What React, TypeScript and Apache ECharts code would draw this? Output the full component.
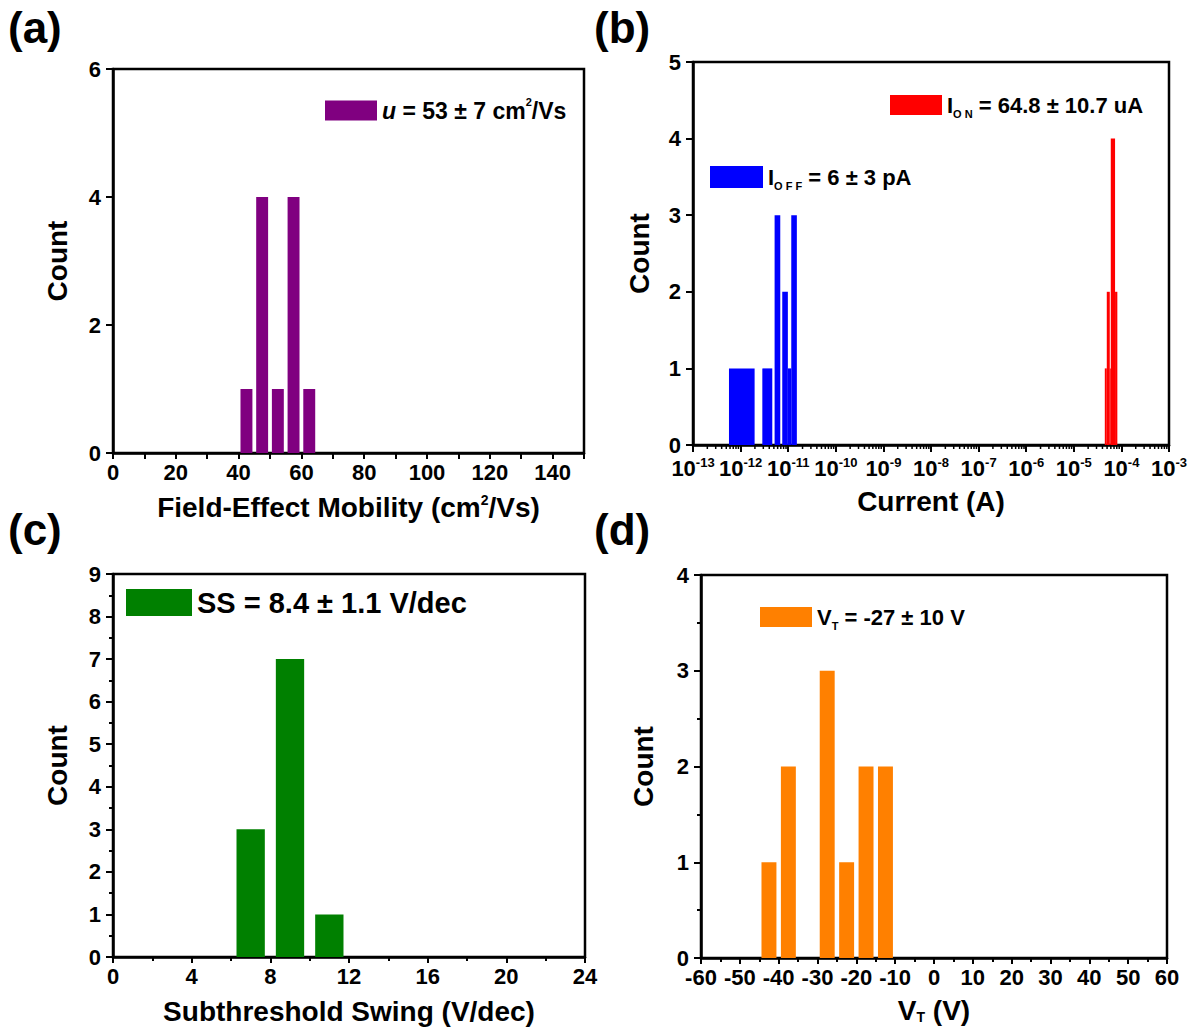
import React, { useEffect, useRef } from "react";
import * as echarts from "echarts";

const FONT = '"Liberation Sans", Arial, Helvetica, sans-serif';

// (a) Field-effect mobility histogram (cm^2/Vs)
const mobilityCenters = [42.5, 47.5, 52.5, 57.5, 62.5];
const mobilityCounts = [1, 4, 1, 4, 1];
const mobilityBinWidth = 5;

// (b) Current histograms (A): bar start / end / count
const ioffStart = [0.57e-12, 2.86e-12, 5.18e-12, 7.5e-12, 9.84e-12, 11.6e-12];
const ioffEnd = [1.97e-12, 4.63e-12, 6.81e-12, 9.84e-12, 11.6e-12, 15.2e-12];
const ioffCounts = [1, 1, 3, 2, 1, 3];
const ionStart = [44.8e-6, 49.3e-6, 57.0e-6, 59.8e-6, 73.6e-6];
const ionEnd = [49.3e-6, 57.0e-6, 59.8e-6, 73.6e-6, 82.2e-6];
const ionCounts = [1, 2, 1, 4, 2];
const currentDecades = [-13, -12, -11, -10, -9, -8, -7, -6, -5, -4, -3];
const minorMultipliers = [2, 3, 4, 5, 6, 7, 8, 9];

// (c) Subthreshold swing histogram (V/dec)
const ssCenters = [7, 9, 11];
const ssCounts = [3, 7, 1];
const ssBinWidth = 2;

// (d) Threshold voltage histogram (V)
const vtCenters = [-42.5, -37.5, -27.5, -22.5, -17.5, -12.5];
const vtCounts = [1, 2, 3, 1, 2, 2];
const vtBinWidth = 5;

const histFromCenters = (centers: number[], counts: number[], bin: number, frac: number) =>
  centers.map((c, i) => [c - (bin * frac) / 2, c + (bin * frac) / 2, counts[i]]);

const histFromEdgesLog = (s: number[], e: number[], counts: number[]) =>
  s.map((v, i) => [Math.log10(v), Math.log10(e[i]), counts[i]]);

const rectItem = (params: any, api: any) => {
  const x0 = api.value(0);
  const x1 = api.value(1);
  const c = api.value(2);
  const tl = api.coord([x0, c]);
  const br = api.coord([x1, 0]);
  return {
    type: "rect",
    shape: { x: tl[0], y: tl[1], width: br[0] - tl[0], height: br[1] - tl[1] },
    style: { fill: api.visual("color") },
  };
};

const minorTickItem = (params: any, api: any) => {
  const p = api.coord([api.value(0), 0]);
  return {
    type: "line",
    shape: { x1: p[0], y1: p[1], x2: p[0], y2: p[1] + 4 },
    style: { stroke: "#000", lineWidth: 1.5 },
  };
};

const titleStyle = {
  color: "#000",
  fontSize: 28,
  fontWeight: "bold" as const,
  fontFamily: FONT,
  rich: {
    sup: { fontSize: 14, fontWeight: "bold" as const, fontFamily: FONT, color: "#000", verticalAlign: "top" as const, lineHeight: 14 },
    sub: { fontSize: 14, fontWeight: "bold" as const, fontFamily: FONT, color: "#000", verticalAlign: "bottom" as const, lineHeight: 14 },
  },
};

const labelBase = { color: "#000", fontSize: 22, fontFamily: FONT, fontWeight: "bold" as const };

const makeX = (gridIndex: number, extra: any) => ({
  gridIndex,
  type: "value",
  axisLine: { show: true, onZero: false, lineStyle: { color: "#000", width: 2.5 } },
  axisTick: { show: true, length: 6, lineStyle: { color: "#000", width: 2 } },
  splitLine: { show: false },
  nameLocation: "middle",
  nameGap: 38,
  nameTextStyle: titleStyle,
  ...extra,
  axisLabel: { ...labelBase, margin: 8, ...(extra.axisLabel || {}) },
});

const makeY = (gridIndex: number, extra: any) => ({
  gridIndex,
  type: "value",
  axisLine: { show: true, onZero: false, lineStyle: { color: "#000", width: 2.5 } },
  axisTick: { show: true, length: 7, lineStyle: { color: "#000", width: 2 } },
  splitLine: { show: false },
  name: "Count",
  nameLocation: "middle",
  nameRotate: 90,
  nameGap: 42,
  nameTextStyle: titleStyle,
  ...extra,
  axisLabel: { ...labelBase, margin: 12, ...(extra.axisLabel || {}) },
});

const legendText = (size: number) => ({
  color: "#000",
  fontSize: size,
  fontWeight: "bold" as const,
  fontFamily: FONT,
  lineHeight: size + 6,
  rich: {
    i: { fontSize: size, fontWeight: "bold" as const, fontStyle: "italic" as const, fontFamily: FONT, color: "#000" },
    sup: { fontSize: 11, fontWeight: "bold" as const, fontFamily: FONT, color: "#000", verticalAlign: "top" as const, lineHeight: 11 },
    sub: { fontSize: 11, fontWeight: "bold" as const, fontFamily: FONT, color: "#000", verticalAlign: "bottom" as const, lineHeight: 11 },
  },
});

const legendNames: Record<string, string> = {
  mu: "{i|u} = 53 ± 7 cm{sup|2}/Vs",
  ion: "I{sub|O N} = 64.8 ± 10.7 uA",
  ioff: "I{sub|O F F} = 6 ± 3 pA",
  ss: "SS = 8.4 ± 1.1 V/dec",
  vt: "V{sub|T} = -27 ± 10 V",
};

const makeLegend = (name: string, left: number, top: number, w: number, h: number, size: number) => ({
  data: [name],
  left,
  top,
  padding: 0,
  itemWidth: w,
  itemHeight: h,
  icon: "rect",
  selectedMode: false,
  formatter: (n: string) => legendNames[n],
  textStyle: legendText(size),
});

const App: React.FC = () => {
  const ref = useRef<HTMLDivElement>(null);

  useEffect(() => {
    if (!ref.current) return;
    const chart = echarts.init(ref.current, undefined, { renderer: "svg" });

    const minorTickData: number[][] = [];
    currentDecades.slice(0, -1).forEach((d) => {
      minorMultipliers.forEach((m) => minorTickData.push([Math.log10(m) + d]));
    });

    const gridBase = { show: true, borderColor: "#000", borderWidth: 2.5, backgroundColor: "transparent" };

    const option: any = {
      animation: false,
      backgroundColor: "#fff",
      grid: [
        { ...gridBase, left: 113, top: 69, width: 471, height: 384 },
        { ...gridBase, left: 693, top: 62, width: 476, height: 383 },
        { ...gridBase, left: 113, top: 574, width: 472, height: 383 },
        { ...gridBase, left: 701, top: 575, width: 466, height: 383 },
      ],
      xAxis: [
        makeX(0, {
          min: 0,
          max: 150,
          interval: 10,
          name: "Field-Effect Mobility (cm{sup|2}/Vs)",
          nameGap: 40,
          axisLabel: { formatter: (v: number) => (v % 20 === 0 && v < 150 ? String(v) : "") },
        }),
        makeX(1, {
          min: currentDecades[0],
          max: currentDecades[currentDecades.length - 1],
          interval: 1,
          name: "Current (A)",
          nameGap: 42,
          axisTick: { show: true, length: 7, lineStyle: { color: "#000", width: 2 } },
          axisLabel: {
            margin: 11,
            formatter: (v: number) => `{b|10}{s|${v}}`,
            rich: {
              b: { fontSize: 22, fontWeight: "bold", fontFamily: FONT, color: "#000", lineHeight: 24 },
              s: { fontSize: 13, fontWeight: "bold", fontFamily: FONT, color: "#000", verticalAlign: "top", lineHeight: 13 },
            },
          },
        }),
        makeX(2, {
          min: 0,
          max: 24,
          interval: 4,
          name: "Subthreshold Swing (V/dec)",
          nameGap: 40,
          minorTick: { show: true, splitNumber: 2, length: 4, lineStyle: { color: "#000", width: 2 } },
        }),
        makeX(3, {
          min: -60,
          max: 60,
          interval: 10,
          name: "V{sub|T} (V)",
          nameGap: 38,
          minorTick: { show: true, splitNumber: 2, length: 4, lineStyle: { color: "#000", width: 2 } },
        }),
      ],
      yAxis: [
        makeY(0, { min: 0, max: 6, interval: 2 }),
        makeY(1, { min: 0, max: 5, interval: 1, nameGap: 40 }),
        makeY(2, {
          min: 0,
          max: 9,
          interval: 1,
          minorTick: { show: true, splitNumber: 2, length: 4, lineStyle: { color: "#000", width: 2 } },
        }),
        makeY(3, {
          min: 0,
          max: 4,
          interval: 1,
          nameGap: 44,
          minorTick: { show: true, splitNumber: 2, length: 4, lineStyle: { color: "#000", width: 2 } },
        }),
      ],
      legend: [
        makeLegend("mu", 325, 96, 52, 20, 23),
        makeLegend("ion", 890, 91, 52, 20, 22),
        makeLegend("ioff", 710, 163, 53, 22, 22),
        makeLegend("ss", 126, 585, 66, 27, 29),
        makeLegend("vt", 760, 603, 52, 20, 22),
      ],
      series: [
        {
          name: "mu",
          type: "custom",
          xAxisIndex: 0,
          yAxisIndex: 0,
          itemStyle: { color: "#800080" },
          renderItem: rectItem,
          encode: { x: [0, 1], y: 2 },
          data: histFromCenters(mobilityCenters, mobilityCounts, mobilityBinWidth, 0.76),
        },
        {
          name: "ioff",
          type: "custom",
          xAxisIndex: 1,
          yAxisIndex: 1,
          itemStyle: { color: "#0000ff" },
          renderItem: rectItem,
          encode: { x: [0, 1], y: 2 },
          data: histFromEdgesLog(ioffStart, ioffEnd, ioffCounts),
        },
        {
          name: "ion",
          type: "custom",
          xAxisIndex: 1,
          yAxisIndex: 1,
          itemStyle: { color: "#ff0000" },
          renderItem: rectItem,
          encode: { x: [0, 1], y: 2 },
          data: histFromEdgesLog(ionStart, ionEnd, ionCounts),
        },
        {
          name: "minorTicks",
          type: "custom",
          xAxisIndex: 1,
          yAxisIndex: 1,
          silent: true,
          clip: false,
          renderItem: minorTickItem,
          encode: { x: 0 },
          data: minorTickData,
        },
        {
          name: "ss",
          type: "custom",
          xAxisIndex: 2,
          yAxisIndex: 2,
          itemStyle: { color: "#008000" },
          renderItem: rectItem,
          encode: { x: [0, 1], y: 2 },
          data: histFromCenters(ssCenters, ssCounts, ssBinWidth, 0.72),
        },
        {
          name: "vt",
          type: "custom",
          xAxisIndex: 3,
          yAxisIndex: 3,
          itemStyle: { color: "#ff8000" },
          renderItem: rectItem,
          encode: { x: [0, 1], y: 2 },
          data: histFromCenters(vtCenters, vtCounts, vtBinWidth, 0.77),
        },
      ],
      graphic: [
        { type: "text", left: 8, top: 5, style: { text: "(a)", fontSize: 44, fontWeight: "bold", fontFamily: FONT, fill: "#000" } },
        { type: "text", left: 594, top: 5, style: { text: "(b)", fontSize: 44, fontWeight: "bold", fontFamily: FONT, fill: "#000" } },
        { type: "text", left: 8, top: 507, style: { text: "(c)", fontSize: 44, fontWeight: "bold", fontFamily: FONT, fill: "#000" } },
        { type: "text", left: 594, top: 507, style: { text: "(d)", fontSize: 44, fontWeight: "bold", fontFamily: FONT, fill: "#000" } },
      ],
    };

    chart.setOption(option);
    return () => chart.dispose();
  }, []);

  return (
    <div
      ref={ref}
      style={{ position: "fixed", left: 0, top: 0, width: 1191, height: 1036, background: "#fff" }}
    />
  );
};

export default App;
